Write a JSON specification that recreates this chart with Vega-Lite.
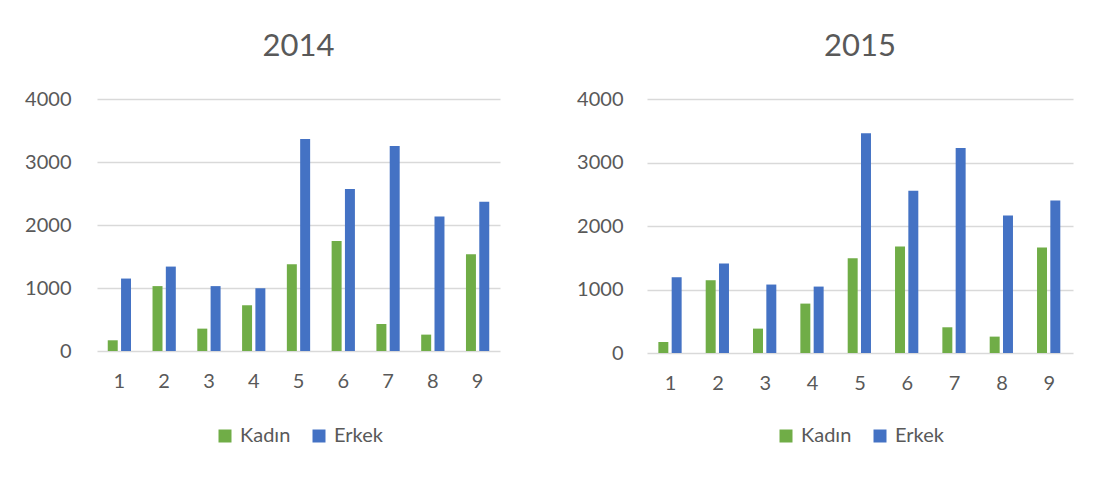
{
  "$schema": "https://vega.github.io/schema/vega-lite/v6.json",
  "background": "white",
  "padding": {"left": 24, "top": 31, "right": 5, "bottom": 5},
  "data": {"values": [
    {"yil": 2014, "grup": "1", "cinsiyet": "Kadın", "sayi": 170},
    {"yil": 2014, "grup": "1", "cinsiyet": "Erkek", "sayi": 1150},
    {"yil": 2014, "grup": "2", "cinsiyet": "Kadın", "sayi": 1030},
    {"yil": 2014, "grup": "2", "cinsiyet": "Erkek", "sayi": 1340},
    {"yil": 2014, "grup": "3", "cinsiyet": "Kadın", "sayi": 355},
    {"yil": 2014, "grup": "3", "cinsiyet": "Erkek", "sayi": 1030},
    {"yil": 2014, "grup": "4", "cinsiyet": "Kadın", "sayi": 726},
    {"yil": 2014, "grup": "4", "cinsiyet": "Erkek", "sayi": 996},
    {"yil": 2014, "grup": "5", "cinsiyet": "Kadın", "sayi": 1377},
    {"yil": 2014, "grup": "5", "cinsiyet": "Erkek", "sayi": 3364},
    {"yil": 2014, "grup": "6", "cinsiyet": "Kadın", "sayi": 1748},
    {"yil": 2014, "grup": "6", "cinsiyet": "Erkek", "sayi": 2570},
    {"yil": 2014, "grup": "7", "cinsiyet": "Kadın", "sayi": 429},
    {"yil": 2014, "grup": "7", "cinsiyet": "Erkek", "sayi": 3253},
    {"yil": 2014, "grup": "8", "cinsiyet": "Kadın", "sayi": 260},
    {"yil": 2014, "grup": "8", "cinsiyet": "Erkek", "sayi": 2135},
    {"yil": 2014, "grup": "9", "cinsiyet": "Kadın", "sayi": 1536},
    {"yil": 2014, "grup": "9", "cinsiyet": "Erkek", "sayi": 2368},
    {"yil": 2015, "grup": "1", "cinsiyet": "Kadın", "sayi": 173},
    {"yil": 2015, "grup": "1", "cinsiyet": "Erkek", "sayi": 1193},
    {"yil": 2015, "grup": "2", "cinsiyet": "Kadın", "sayi": 1146},
    {"yil": 2015, "grup": "2", "cinsiyet": "Erkek", "sayi": 1409},
    {"yil": 2015, "grup": "3", "cinsiyet": "Kadın", "sayi": 384},
    {"yil": 2015, "grup": "3", "cinsiyet": "Erkek", "sayi": 1078},
    {"yil": 2015, "grup": "4", "cinsiyet": "Kadın", "sayi": 778},
    {"yil": 2015, "grup": "4", "cinsiyet": "Erkek", "sayi": 1046},
    {"yil": 2015, "grup": "5", "cinsiyet": "Kadın", "sayi": 1493},
    {"yil": 2015, "grup": "5", "cinsiyet": "Erkek", "sayi": 3459},
    {"yil": 2015, "grup": "6", "cinsiyet": "Kadın", "sayi": 1677},
    {"yil": 2015, "grup": "6", "cinsiyet": "Erkek", "sayi": 2555},
    {"yil": 2015, "grup": "7", "cinsiyet": "Kadın", "sayi": 405},
    {"yil": 2015, "grup": "7", "cinsiyet": "Erkek", "sayi": 3227},
    {"yil": 2015, "grup": "8", "cinsiyet": "Kadın", "sayi": 258},
    {"yil": 2015, "grup": "8", "cinsiyet": "Erkek", "sayi": 2166},
    {"yil": 2015, "grup": "9", "cinsiyet": "Kadın", "sayi": 1661},
    {"yil": 2015, "grup": "9", "cinsiyet": "Erkek", "sayi": 2402}
  ]},
  "hconcat": [
    {
      "transform": [{"filter": "datum.yil == 2014"}],
      "title": "2014",
      "width": 403,
      "height": 252,
      "mark": {"type": "bar"},
      "encoding": {
        "x": {"field": "grup", "type": "ordinal", "scale": {"paddingInner": 0.48, "paddingOuter": 0.24}, "axis": {"title": null, "labelAngle": 0, "domain": false, "ticks": false, "labelPadding": 20}},
        "xOffset": {"field": "cinsiyet", "sort": ["Kadın", "Erkek"], "scale": {"paddingInner": 0.25}},
        "y": {"field": "sayi", "type": "quantitative", "scale": {"domain": [0, 4000]}, "axis": {"title": null, "values": [0, 1000, 2000, 3000, 4000], "format": "d", "domain": false, "ticks": false, "labelPadding": 26}},
        "color": {"field": "cinsiyet", "type": "nominal", "scale": {"domain": ["Kadın", "Erkek"], "range": ["#70AD47", "#4472C4"]}, "legend": {"orient": "bottom", "title": null, "offset": 35}}
      }
    },
    {
      "transform": [{"filter": "datum.yil == 2015"}],
      "title": "2015",
      "width": 426,
      "height": 254,
      "mark": {"type": "bar"},
      "encoding": {
        "x": {"field": "grup", "type": "ordinal", "scale": {"paddingInner": 0.48, "paddingOuter": 0.24}, "axis": {"title": null, "labelAngle": 0, "domain": false, "ticks": false, "labelPadding": 20}},
        "xOffset": {"field": "cinsiyet", "sort": ["Kadın", "Erkek"], "scale": {"paddingInner": 0.25}},
        "y": {"field": "sayi", "type": "quantitative", "scale": {"domain": [0, 4000]}, "axis": {"title": null, "values": [0, 1000, 2000, 3000, 4000], "format": "d", "domain": false, "ticks": false, "labelPadding": 24}},
        "color": {"field": "cinsiyet", "type": "nominal", "scale": {"domain": ["Kadın", "Erkek"], "range": ["#70AD47", "#4472C4"]}, "legend": {"orient": "bottom", "title": null, "offset": 33}}
      }
    }
  ],
  "spacing": 76,
  "resolve": {"scale": {"color": "independent"}, "legend": {"color": "independent"}},
  "config": {
    "font": "Lato",
    "view": {"stroke": null},
    "title": {"fontSize": 31, "font": "Lato", "fontWeight": "normal", "color": "#595959", "offset": 26, "anchor": "middle"},
    "axis": {"labelFont": "Lato", "labelFontSize": 20, "labelColor": "#595959", "gridColor": "#d9d9d9", "gridWidth": 1.5},
    "legend": {"labelFont": "Lato", "labelFontSize": 20, "labelColor": "#595959", "symbolType": "square", "symbolSize": 169, "symbolStrokeWidth": 0, "labelOffset": 5, "columnPadding": 18, "layout": {"bottom": {"anchor": "middle"}}}
  }
}
